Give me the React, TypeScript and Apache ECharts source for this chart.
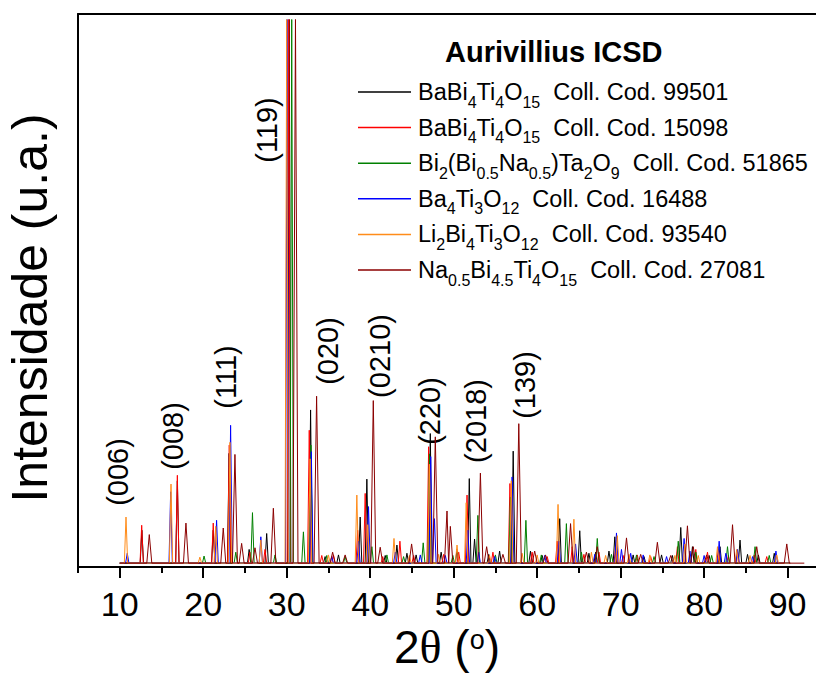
import React, { useEffect, useRef } from 'react';
import * as echarts from 'echarts';

// ---------- Data (2θ in degrees, intensity in arbitrary units) ----------
const SERIES_NAMES = [
  'BaBi4Ti4O15 Coll. Cod. 99501',
  'BaBi4Ti4O15 Coll. Cod. 15098',
  'Bi2(Bi0.5Na0.5)Ta2O9 Coll. Cod. 51865',
  'Ba4Ti3O12 Coll. Cod. 16488',
  'Li2Bi4Ti3O12 Coll. Cod. 93540',
  'Na0.5Bi4.5Ti4O15 Coll. Cod. 27081',
];

const LEGEND_RICH_LABELS = [
  '{n|BaBi}{s|4}{n|Ti}{s|4}{n|O}{s|15}{n|  Coll. Cod. 99501}',
  '{n|BaBi}{s|4}{n|Ti}{s|4}{n|O}{s|15}{n|  Coll. Cod. 15098}',
  '{n|Bi}{s|2}{n|(Bi}{s|0.5}{n|Na}{s|0.5}{n|)Ta}{s|2}{n|O}{s|9}{n|  Coll. Cod. 51865}',
  '{n|Ba}{s|4}{n|Ti}{s|3}{n|O}{s|12}{n|  Coll. Cod. 16488}',
  '{n|Li}{s|2}{n|Bi}{s|4}{n|Ti}{s|3}{n|O}{s|12}{n|  Coll. Cod. 93540}',
  '{n|Na}{s|0.5}{n|Bi}{s|4.5}{n|Ti}{s|4}{n|O}{s|15}{n|  Coll. Cod. 27081}',
];

const SERIES_COLORS = ['#000000', '#ff0000', '#008000', '#0000ff', '#ff8c1a', '#8b0000'];

// peak lists: [2θ, intensity]
const PEAKS_99501: [number, number][] = [
  [12.65, 60], [16.9, 150], [21.2, 60], [23.1, 200], [25.5, 25], [27.6, 54], [30.3, 990],
  [32.86, 279], [34.6, 12], [36.2, 15], [38.8, 84], [39.6, 153], [41.8, 14], [43.2, 33],
  [44.4, 18], [45.5, 15], [47.2, 236], [48.5, 20], [50.4, 25], [51.87, 154], [52.5, 44],
  [54.2, 16], [55.5, 22], [57.13, 204], [59.2, 22], [60.6, 14], [62.7, 81], [65.1, 59],
  [66.2, 18], [67.0, 20], [68.6, 22], [69.3, 48], [71.5, 15], [72.8, 12], [74.9, 15],
  [76.2, 14], [77.2, 65], [78.6, 30], [80.6, 14], [81.9, 30], [84.3, 42], [85.2, 16],
  [86.5, 15], [88.4, 18],
];
const PEAKS_15098: [number, number][] = [
  [12.63, 69], [16.9, 160], [21.2, 73], [23.12, 215], [25.6, 20], [27.4, 25], [30.25, 990],
  [32.7, 242], [34.2, 14], [35.6, 15], [38.5, 60], [39.4, 127], [41.5, 12], [43.56, 40],
  [45.2, 14], [47.0, 212], [48.8, 16], [50.6, 20], [51.6, 124], [54.7, 20], [56.74, 145],
  [59.4, 20], [61.2, 12], [62.4, 40], [64.2, 30], [65.6, 16], [67.4, 20], [69.4, 30],
  [70.3, 14], [72.0, 15], [73.6, 12], [76.8, 30], [79.0, 25], [80.4, 20], [81.7, 25],
  [82.9, 14], [84.0, 20], [86.0, 15], [87.5, 12],
];
const PEAKS_51865: [number, number][] = [
  [20.1, 13], [23.9, 20], [25.9, 92], [28.6, 15], [30.6, 990], [32.0, 57], [32.9, 215],
  [34.8, 14], [37.0, 12], [40.2, 30], [42.0, 15], [44.0, 12], [46.35, 37], [47.1, 199],
  [49.9, 14], [52.9, 87], [55.0, 15], [56.8, 120], [58.65, 78], [60.5, 15], [63.5, 72],
  [65.3, 20], [67.2, 45], [68.9, 16], [71.9, 15], [74.0, 12], [76.9, 40], [79.0, 20],
  [80.9, 14], [82.8, 30], [86.1, 30], [87.8, 14],
];
const PEAKS_16488: [number, number][] = [
  [10.9, 18], [16.1, 130], [21.6, 78], [23.28, 251], [26.9, 48], [30.05, 990], [32.95, 203],
  [35.4, 12], [38.6, 40], [39.8, 103], [43.0, 20], [46.0, 15], [47.25, 194], [47.7, 81],
  [49.0, 14], [51.7, 60], [53.0, 20], [54.9, 12], [57.0, 157], [60.9, 14], [62.6, 40],
  [64.6, 35], [66.9, 16], [69.5, 55], [70.1, 25], [71.2, 18], [72.7, 15], [75.5, 12],
  [77.6, 45], [78.3, 22], [80.0, 14], [81.8, 40], [82.6, 18], [84.0, 25], [85.8, 12],
  [88.6, 22],
];
const PEAKS_93540: [number, number][] = [
  [10.75, 84], [16.14, 144], [19.6, 11], [21.5, 67], [23.2, 220], [26.9, 42], [30.0, 990],
  [32.8, 190], [35.0, 15], [38.4, 124], [39.7, 70], [42.85, 45], [44.7, 14], [47.1, 180],
  [48.2, 16], [50.4, 33], [51.5, 110], [54.3, 14], [56.9, 150], [58.2, 18], [60.0, 15],
  [62.5, 107], [64.4, 80], [66.5, 20], [68.2, 14], [69.6, 50], [71.0, 16], [73.5, 15],
  [76.5, 14], [77.7, 35], [79.3, 14], [81.6, 30], [83.9, 25], [85.5, 14], [88.7, 15],
];
const PEAKS_27081: [number, number][] = [
  [13.54, 52], [17.93, 73], [22.4, 64], [23.8, 198], [24.6, 36], [26.2, 28], [28.4, 100],
  [31.05, 990], [33.58, 304], [35.5, 20], [37.0, 15], [40.37, 296], [41.2, 29], [44.96, 35],
  [47.8, 230], [49.2, 95], [49.6, 67], [53.2, 164], [53.95, 30], [55.9, 16], [57.8, 254],
  [59.7, 22], [61.0, 15], [64.0, 72], [65.9, 20], [67.2, 30], [70.7, 46], [72.4, 16],
  [74.4, 38], [76.0, 14], [78.0, 68], [78.7, 30], [80.3, 15], [83.4, 70], [86.3, 30],
  [89.9, 35],
];

const ALL_PEAKS = [PEAKS_99501, PEAKS_15098, PEAKS_51865, PEAKS_16488, PEAKS_93540, PEAKS_27081];
const SCAN_START = [10, 10, 10, 10, 10, 10];
const SCAN_END = [90.3, 90.3, 90.3, 90.3, 90.3, 92];
const PEAK_HALF_WIDTH = [0.2, 0.2, 0.2, 0.2, 0.2, 0.3];

const X_MIN = 5;
const X_MAX = 93.4;
const MAJOR_TICKS = [10, 20, 30, 40, 50, 60, 70, 80, 90];
const MINOR_TICKS = [5, 15, 25, 35, 45, 55, 65, 75, 85];

const HKL_LABELS = ['(006)', '(008)', '(111)', '(119)', '(020)', '(0210)', '(220)', '(2018)', '(139)'];

// Build a polyline from the read peak list
function profile(peaks: [number, number][], hw: number, start: number, end: number) {
  const sorted = [...peaks].sort((a, b) => a[0] - b[0]);
  const pts: number[][] = [[start, 0]];
  sorted.forEach(([p, h], i) => {
    const prev = i > 0 ? sorted[i - 1][0] : -Infinity;
    const next = i < sorted.length - 1 ? sorted[i + 1][0] : Infinity;
    const l = Math.max(p - hw, (prev + p) / 2);
    const r = Math.min(p + hw, (p + next) / 2);
    if (l > pts[pts.length - 1][0]) pts.push([l, 0]);
    pts.push([p, h]);
    pts.push([r, 0]);
  });
  pts.push([end, 0]);
  return pts;
}

const FONT = "'Liberation Sans', Arial, sans-serif";
const SERIF = "'Liberation Serif', 'Times New Roman', serif";

export default function App() {
  const ref = useRef<HTMLDivElement>(null);
  useEffect(() => {
    if (!ref.current) return;
    const chart = echarts.init(ref.current, undefined, { renderer: 'svg' });

    const hklPos = [
      [118, 472], [173, 436], [226, 377], [267, 130], [328, 351],
      [380, 356], [430, 411], [476, 421], [525, 385],
    ];

    const option: any = {
      animation: false,
      backgroundColor: '#ffffff',
      title: {
        text: 'Aurivillius ICSD',
        left: 445,
        top: 37,
        padding: 0,
        textStyle: { fontFamily: FONT, fontSize: 29, fontWeight: 'bold', color: '#000' },
      },
      legend: {
        orient: 'vertical',
        left: 358,
        top: 80,
        padding: 0,
        itemGap: 5.6,
        itemWidth: 53,
        itemHeight: 1.5,
        icon: 'rect',
        selectedMode: false,
        data: SERIES_NAMES,
        formatter: (name: string) => LEGEND_RICH_LABELS[SERIES_NAMES.indexOf(name)],
        textStyle: {
          fontFamily: FONT,
          fontSize: 23.5,
          color: '#000',
          padding: [0, 0, 0, 2],
          rich: {
            n: { fontFamily: FONT, fontSize: 23.5, lineHeight: 36, color: '#000' },
            s: { fontFamily: FONT, fontSize: 16, lineHeight: 16, verticalAlign: 'bottom', color: '#000' },
          },
        },
      },
      grid: { left: 78, right: 0, top: 14, bottom: 107, containLabel: false },
      xAxis: [
        {
          type: 'value',
          min: X_MIN,
          max: X_MAX,
          interval: 5,
          position: 'bottom',
          axisLine: { show: true, onZero: false, lineStyle: { color: '#000', width: 2 } },
          axisTick: { show: true, customValues: MAJOR_TICKS, length: 11, lineStyle: { color: '#000', width: 2 } },
          axisLabel: {
            show: true,
            customValues: MAJOR_TICKS,
            formatter: (v: number) => (v % 10 === 0 ? String(v) : ''),
            margin: 20,
            fontFamily: FONT,
            fontSize: 34,
            color: '#000',
          },
          splitLine: { show: false },
        },
        {
          type: 'value',
          min: X_MIN,
          max: X_MAX,
          interval: 5,
          position: 'bottom',
          axisLine: { show: false, onZero: false },
          axisTick: { show: true, customValues: MINOR_TICKS, length: 6, lineStyle: { color: '#000', width: 2 } },
          axisLabel: { show: false },
          splitLine: { show: false },
        },
        {
          type: 'value',
          min: X_MIN,
          max: X_MAX,
          position: 'top',
          axisLine: { show: true, onZero: false, lineStyle: { color: '#000', width: 2 } },
          axisTick: { show: false },
          axisLabel: { show: false },
          splitLine: { show: false },
        },
      ],
      yAxis: {
        type: 'value',
        min: -7,
        max: 1000,
        axisLine: { show: true, onZero: false, lineStyle: { color: '#000', width: 2 } },
        axisTick: { show: false },
        axisLabel: { show: false },
        splitLine: { show: false },
      },
      series: SERIES_NAMES.map((name, i) => ({
        name,
        type: 'line',
        xAxisIndex: 0,
        yAxisIndex: 0,
        data: profile(ALL_PEAKS[i], PEAK_HALF_WIDTH[i], SCAN_START[i], SCAN_END[i]),
        symbol: 'none',
        showSymbol: false,
        color: SERIES_COLORS[i],
        itemStyle: { color: SERIES_COLORS[i] },
        lineStyle: { color: SERIES_COLORS[i], width: 1 },
        silent: true,
        clip: true,
        z: 2 + i,
      })),
      graphic: [
        ...HKL_LABELS.map((t, i) => ({
          type: 'text',
          x: hklPos[i][0],
          y: hklPos[i][1],
          rotation: Math.PI / 2,
          silent: true,
          style: { text: t, fontFamily: FONT, fontSize: 29, fill: '#000', align: 'center', verticalAlign: 'middle' },
        })),
        {
          type: 'text',
          x: 30,
          y: 308,
          rotation: Math.PI / 2,
          silent: true,
          style: {
            text: 'Intensidade (u.a.)',
            fontFamily: FONT,
            fontSize: 50,
            fill: '#000',
            align: 'center',
            verticalAlign: 'middle',
          },
        },
        {
          type: 'text',
          x: 447,
          y: 647,
          silent: true,
          style: {
            text: '{a|2}{t|θ}{a| (}{b|o}{a|)}',
            align: 'center',
            verticalAlign: 'middle',
            rich: {
              a: { fontFamily: FONT, fontSize: 46, lineHeight: 42, fill: '#000', color: '#000' },
              t: { fontFamily: SERIF, fontSize: 46, lineHeight: 42, fill: '#000', color: '#000' },
              b: { fontFamily: FONT, fontSize: 27, lineHeight: 24, verticalAlign: 'top', fill: '#000', color: '#000' },
            },
          },
        },
      ],
    };

    chart.setOption(option);
    return () => chart.dispose();
  }, []);

  return (
    <div
      ref={ref}
      style={{ position: 'fixed', left: 0, top: 0, width: 816, height: 674, background: '#fff' }}
    />
  );
}
